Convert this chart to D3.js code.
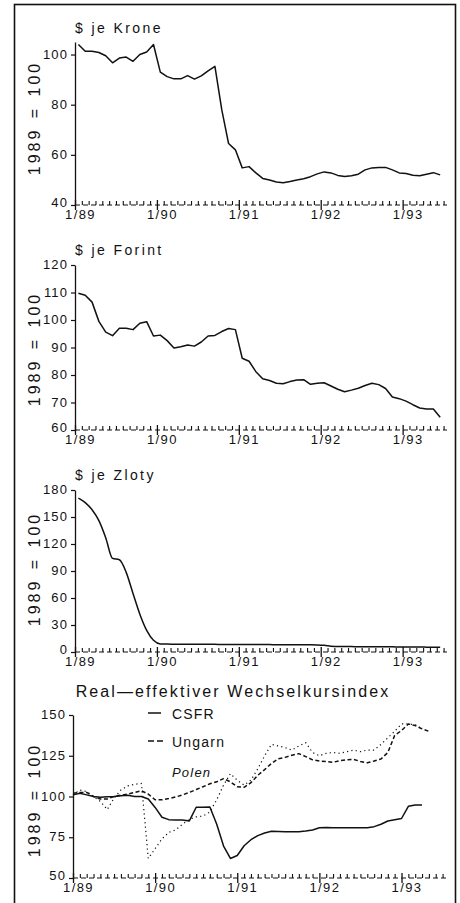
<!DOCTYPE html>
<html><head><meta charset="utf-8">
<script src="https://cdn.jsdelivr.net/npm/d3@7/dist/d3.min.js"></script>
<style>
body{margin:0;background:#fff}
svg{display:block}
text{font-family:"Liberation Sans",Arial,Helvetica,sans-serif;fill:#111}
</style>
</head><body>
<svg id="c" width="460" height="903"></svg>
<script>
// ---- data (monthly, starting 1/1989) ----
const xTickLabels = ["1/89", "1/90", "1/91", "1/92", "1/93"];
const yLabel = "1989 = 100";

const krone = [104,101.3,101.3,100.8,99.5,96.7,98.6,99,97.3,100,101,104,93,91.2,90.3,90.3,91.6,90.2,91.5,93.5,95.3,78,64.5,62,54.8,55.3,52.8,50.6,50,49.2,48.9,49.4,50,50.5,51.3,52.4,53.2,52.8,51.8,51.4,51.7,52.3,54,54.8,55,55,54,52.8,52.6,51.9,51.7,52.3,52.9,52];
const forint = [109.7,109,106.5,99.5,95.6,94.3,97,97,96.5,98.8,99.4,94.2,94.5,92.5,89.8,90.3,90.9,90.5,92,94.2,94.4,95.8,96.9,96.5,86.1,85,81.2,78.6,78,77,76.8,77.6,78.2,78.3,76.6,77,77.2,76,74.8,73.9,74.5,75.2,76.2,77,76.5,75.1,72,71.4,70.5,69.2,68,67.6,67.6,64.6];
const zloty = [171,166,158,146,127,104,102.5,88.5,65,42,24,13,9,8.8,8.7,8.6,8.6,8.5,8.5,8.5,8.5,8.4,8.4,8.4,8.4,8.3,8.3,8.2,8.2,8.1,8.1,8,8,8,8,7.9,7.5,6.5,6,6,6,5.9,5.9,5.8,5.8,5.7,5.7,5.6,5.6,5.5,5.5,5.4,5.3,5.2];

const csfr = [101,102,101,100,99.5,99.8,100,100.5,100.8,100,100,98.5,93.3,87.3,85.8,85.6,85.6,85,93.4,93.4,93.6,83,69.6,62,63.8,69.8,73.5,76,77.6,78.7,78.6,78.4,78.4,78.4,78.8,79.5,80.8,81,80.9,80.9,80.9,80.9,80.9,80.9,81.5,83,85,85.8,86.5,94,94.8,94.8];
const ungarn = [102,102.5,102.5,100,98.5,98.5,100,100.8,101.5,102.5,103.5,101.5,98,98,98.8,99.7,101,102.5,104.3,106,107.8,109,111,109,106,105.6,108.5,113,116.5,120.3,123.2,124,125.3,126.3,124.5,122.5,121.8,121.4,121,122,122.5,122.8,121.5,120.7,121.8,123,127,137.5,140.5,144.5,143.5,141.5,140];
const polen = [101,104,103,100,97,92,99,104,106.5,107.5,108,62,68,74,78,79.5,83,86,87.5,88,90.5,98,107,114,110,107,110,117,125,132,131,130,128.5,131,133,127,125,126.5,127,126.5,127.5,128.5,127.5,128.5,128.5,132,136,140,144.5,144.5,144,141.5];

const reerSeries = ["CSFR", "Ungarn", "Polen"];

const kroneTicks = [40, 60, 80, 100];
const forintTicks = [60, 70, 80, 90, 100, 110, 120];
const zlotyTicks = [0, 30, 60, 90, 120, 150, 180];
const reerTicks = [50, 75, 100, 125, 150];

// ---- layout ----
const svg = d3.select("#c");
svg.append("rect").attr("x", 14.5).attr("y", 4.5).attr("width", 441).attr("height", 905)
  .attr("fill", "none").attr("stroke", "#111").attr("stroke-width", 1.6);

const panels = [
  {title: "$ je Krone", tx: 75, ty: 33, center: false, x0: 75, x1: 447, yTop: 42, yBot: 205, dom: [40, 105], ticks: kroneTicks, ylabY: 118,
   series: [{v: krone, off: 0.5, dash: null}]},
  {title: "$ je Forint", tx: 75, ty: 255, center: false, x0: 75, x1: 447, yTop: 265, yBot: 430, dom: [60, 120], ticks: forintTicks, ylabY: 349,
   series: [{v: forint, off: 0.5, dash: null}]},
  {title: "$ je Zloty", tx: 75, ty: 480, center: false, x0: 75, x1: 447, yTop: 490, yBot: 652, dom: [0, 180], ticks: zlotyTicks, ylabY: 569,
   series: [{v: zloty, off: 0.5, dash: null, curve: d3.curveMonotoneX}]},
  {title: "Real\u2014effektiver Wechselkursindex", tx: 233, ty: 697, center: true, x0: 73, x1: 446, yTop: 715, yBot: 878, dom: [50, 150], ticks: reerTicks, ylabY: 800,
   series: [{v: polen, off: 0, dash: "1.2,3.2", w: 1.2}, {v: ungarn, off: 0, dash: "4,2.5"}, {v: csfr, off: 0, dash: null}]}
];

panels.forEach(p => {
  const x = d3.scaleLinear().domain([0, 54.5]).range([p.x0, p.x1]);
  const y = d3.scaleLinear().domain(p.dom).range([p.yBot, p.yTop]);
  const g = svg.append("g");

  // title
  g.append("text").attr("x", p.tx).attr("y", p.ty)
    .attr("text-anchor", p.center ? "middle" : "start")
    .style("font-size", p.center ? "16px" : "14px")
    .style("letter-spacing", p.center ? "2.1px" : "2.4px")
    .text(p.title);

  // y label
  g.append("text").attr("transform", `translate(40,${p.ylabY}) rotate(-90)`)
    .attr("text-anchor", "middle").style("font-size", "16px").style("letter-spacing", "3px")
    .style("word-spacing", "2px").text(yLabel);

  // y axis
  const ya = g.append("g").attr("transform", `translate(${p.x0},0)`)
    .call(d3.axisLeft(y).tickValues(p.ticks).tickSize(4).tickSizeOuter(0).tickPadding(4).tickFormat(d3.format("d")));
  ya.select(".domain").attr("stroke", "#111").attr("stroke-width", 1.3);
  ya.selectAll(".tick line").attr("stroke", "#111").attr("stroke-width", 1.2);
  ya.selectAll(".tick text").style("font-size", "13px").style("letter-spacing", "1.2px")
    .attr("dx", "1.2").attr("dy", d => d === p.dom[0] ? "0.12em" : "0.28em")
    .attr("fill", "#111").attr("font-family", null);

  // x axis: dashed baseline, monthly ticks
  g.append("line").attr("x1", p.x0).attr("x2", p.x1).attr("y1", p.yBot).attr("y2", p.yBot)
    .attr("stroke", "#111").attr("stroke-width", 1.2).attr("stroke-dasharray", "5,3");
  const xa = g.append("g").attr("transform", `translate(0,${p.yBot})`)
    .call(d3.axisBottom(x).tickValues(d3.range(0, 55)).tickSize(-4).tickSizeOuter(0).tickPadding(5)
      .tickFormat(d => d % 12 === 0 ? xTickLabels[d / 12] : ""));
  xa.select(".domain").remove();
  xa.selectAll(".tick line").attr("stroke", "#111").attr("stroke-width", 1.1)
    .filter(d => d % 12 === 0).attr("y1", 5).attr("y2", -5).attr("stroke-width", 1.3);
  xa.selectAll(".tick text").style("font-size", "13px").style("letter-spacing", "1.4px")
    .attr("dx", "5").attr("fill", "#111").attr("font-family", null);

  // lines
  p.series.forEach(s => {
    const line = d3.line().x((d, i) => x(i + s.off)).y(d => y(d)).curve(s.curve || d3.curveLinear);
    g.append("path").datum(s.v).attr("d", line).attr("fill", "none")
      .attr("stroke", "#111").attr("stroke-width", s.w || 1.5)
      .attr("stroke-linejoin", "round")
      .attr("stroke-dasharray", s.dash);
  });
});

// legend for REER panel
const lg = svg.append("g");
const legY = [719, 747, 777];
const legDash = [null, "6,3", "none"];
reerSeries.forEach((name, i) => {
  if (i < 2) {
    lg.append("line").attr("x1", 148).attr("x2", i === 0 ? 161 : 165)
      .attr("y1", legY[i] - 6).attr("y2", legY[i] - 6)
      .attr("stroke", "#111").attr("stroke-width", 1.5).attr("stroke-dasharray", legDash[i]);
  }
  lg.append("text").attr("x", 172).attr("y", legY[i])
    .style("font-size", i === 2 ? "13px" : "14px")
    .style("font-style", i === 2 ? "italic" : "normal")
    .style("letter-spacing", "1.2px").text(name);
});
</script>
</body></html>
